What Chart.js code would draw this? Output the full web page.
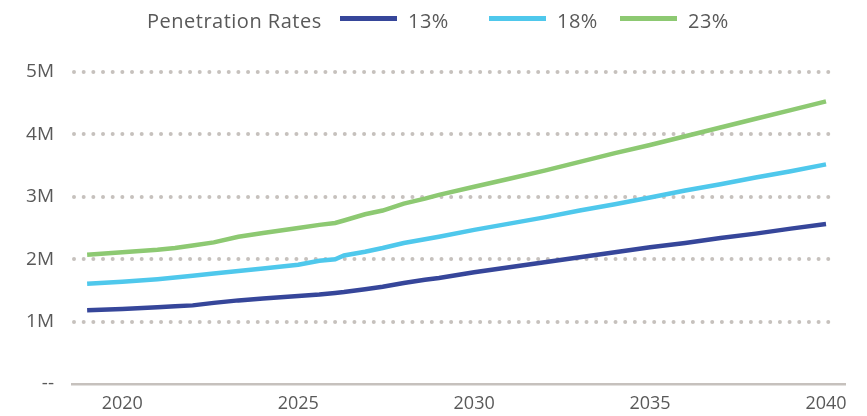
<!DOCTYPE html>
<html>
<head>
<meta charset="utf-8">
<script src="https://cdn.jsdelivr.net/npm/chart.js@4/dist/chart.umd.min.js"></script>
<style>
    html, body { margin: 0; padding: 0; background: #fff; }
    #wrap { position: relative; width: 867px; height: 416px; }
    #legend {
        position: absolute; left: 147px; top: 5px; height: 30px;
        display: flex; align-items: center;
        font-family: "Open Sans", sans-serif; font-size: 20px; letter-spacing: 0.5px; color: #595959;
    }
    #legend .title { width: 193px; }
    #legend .sw { width: 57px; height: 5px; margin-right: 11px; margin-top: -3px; }
    #legend .item { display: flex; align-items: center; }
</style>
</head>
<body>
<div id="wrap">
    <canvas id="chart" width="867" height="416"></canvas>
    <div id="legend"></div>
</div>
<script>
// Years (fractional where the curves bend)
const years = [2019, 2020, 2021, 2021.5, 2022, 2022.6, 2023.3, 2024, 2025, 2025.6, 2026.05, 2026.3,
    2026.9, 2027.4, 2028, 2028.6, 2029, 2030, 2031, 2032, 2033, 2034, 2035, 2036, 2037, 2038, 2039, 2040];

// values in millions
const rate13 = [1.18, 1.20, 1.23, 1.245, 1.26, 1.30, 1.34, 1.37, 1.41, 1.435, 1.46, 1.475,
    1.52, 1.56, 1.62, 1.67, 1.70, 1.79, 1.87, 1.95, 2.03, 2.11, 2.19, 2.26, 2.34, 2.41, 2.49, 2.565];
const rate18 = [1.605, 1.64, 1.68, 1.705, 1.735, 1.77, 1.81, 1.85, 1.91, 1.975, 2.0, 2.06,
    2.12, 2.18, 2.26, 2.32, 2.36, 2.47, 2.57, 2.67, 2.78, 2.88, 2.99, 3.10, 3.20, 3.31, 3.41, 3.52];
const rate23 = [2.07, 2.11, 2.15, 2.18, 2.22, 2.27, 2.36, 2.42, 2.50, 2.55, 2.58, 2.62,
    2.72, 2.78, 2.89, 2.97, 3.03, 3.16, 3.29, 3.42, 3.56, 3.70, 3.83, 3.97, 4.11, 4.25, 4.39, 4.53];

const seriesLabels = ['13%', '18%', '23%'];
const seriesColors = ['#36469a', '#4fc8ec', '#8dc972'];
const xTicks = [2020, 2025, 2030, 2035, 2040];
const yTickLabels = ['--', '1M', '2M', '3M', '4M', '5M'];

const toPoints = vals => vals.map((v, i) => ({ x: years[i], y: v }));

// dotted horizontal grid, drawn from the y scale ticks
const dottedGrid = {
    id: 'dottedGrid',
    beforeDatasetsDraw(chart) {
        const { ctx, chartArea, scales } = chart;
        ctx.save();
        ctx.strokeStyle = '#c6c1bd';
        ctx.lineWidth = 4;
        ctx.lineCap = 'round';
        ctx.setLineDash([0, 9.67]);
        scales.y.ticks.forEach(t => {
            if (t.value === 0) return;
            const y = Math.round(scales.y.getPixelForValue(t.value));
            ctx.beginPath();
            ctx.moveTo(chartArea.left + 2, y);
            ctx.lineTo(chartArea.right - 10, y);
            ctx.stroke();
        });
        ctx.restore();
    }
};

new Chart(document.getElementById('chart'), {
    type: 'line',
    data: {
        datasets: [rate13, rate18, rate23].map((vals, i) => ({
            label: seriesLabels[i],
            data: toPoints(vals),
            borderColor: seriesColors[i],
            backgroundColor: seriesColors[i],
            borderWidth: 4.5,
            pointRadius: 0,
            tension: 0,
            borderCapStyle: 'butt'
        }))
    },
    options: {
        responsive: false,
        animation: false,
        layout: { padding: { top: 72, right: 22, left: 0, bottom: 0 } },
        plugins: {
            legend: { display: false },
            tooltip: { enabled: false }
        },
        scales: {
            x: {
                type: 'linear',
                min: 2018.57,
                max: 2040.54,
                afterBuildTicks: axis => { axis.ticks = xTicks.map(v => ({ value: v })); },
                afterFit: axis => { axis.height = 32; },
                ticks: {
                    callback: v => String(v),
                    color: '#595959',
                    font: { family: "'Open Sans', sans-serif", size: 18 },
                    padding: 9,
                    maxRotation: 0
                },
                grid: { display: false, drawTicks: false },
                border: { display: true, color: '#c6c1bd', width: 2.5 }
            },
            y: {
                min: 0,
                max: 5,
                afterFit: axis => { axis.width = 72; },
                ticks: {
                    stepSize: 1,
                    callback: v => yTickLabels[v],
                    color: '#595959',
                    font: { family: "'Open Sans', sans-serif", size: 19 },
                    padding: 18
                },
                grid: { display: false, drawTicks: false },
                border: { display: false }
            }
        }
    },
    plugins: [dottedGrid]
});

// legend row, built from the same labels and colours
const legend = document.getElementById('legend');
legend.innerHTML = '<span class="title">Penetration Rates</span>' +
    seriesLabels.map((l, i) =>
        `<span class="item"><span class="sw" style="background:${seriesColors[i]}"></span><span class="lbl" style="width:${[81, 63, 50][i]}px">${l}</span></span>`
    ).join('');
</script>
</body>
</html>
